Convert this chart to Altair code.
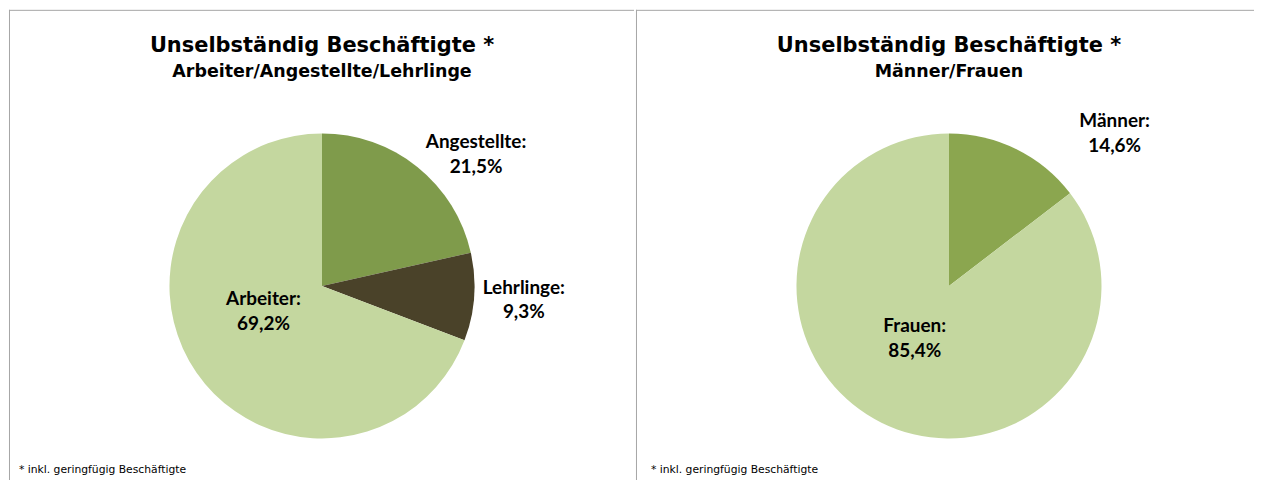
import altair as alt
import pandas as pd

# ---- data ----
left_cats = ["Angestellte", "Lehrlinge", "Arbeiter"]
left_vals = [21.5, 9.3, 69.2]
right_cats = ["Männer", "Frauen"]
right_vals = [14.6, 85.4]

title_main = "Unselbständig Beschäftigte *"
left_sub = "Arbeiter/Angestellte/Lehrlinge"
right_sub = "Männer/Frauen"
footnote = "* inkl. geringfügig Beschäftigte"

# ---- styles ----
colors = {
    "Angestellte": "#7f9b4b",
    "Lehrlinge": "#4a4229",
    "Arbeiter": "#c4d79f",
    "Männer": "#8ba64f",
    "Frauen": "#c4d79f",
}
# label placement: radius, dx, dy (dy is for the first line)
label_style = {
    "Angestellte": (204, 27, 15),
    "Lehrlinge": (203, 0, -13),
    "Arbeiter": (64, -6, -23),
    "Männer": (224, 67, 35),
    "Frauen": (64, -6, -17),
}
CX, CY, R = 314, 277, 153
H = 472
BORDER = "#a6a6a6"
LABEL_FONT = "Lato"
TITLE_FONT = "DejaVu Sans"


def fmt(v):
    return f"{v:.1f}".replace(".", ",") + "%"


def panel(cats, vals, sub, width, foot_x):
    df = pd.DataFrame({
        "cat": cats,
        "val": vals,
        "o": list(range(len(cats))),
        "label": [f"{c}:\n{fmt(v)}" for c, v in zip(cats, vals)],
    })
    base = alt.Chart(df).encode(
        theta=alt.Theta("val:Q", stack=True),
        order=alt.Order("o:Q"),
        x=alt.value(CX),
        y=alt.value(CY),
    )
    arcs = base.mark_arc(radius=R).encode(
        color=alt.Color("cat:N",
                        scale=alt.Scale(domain=cats, range=[colors[c] for c in cats]),
                        legend=None)
    )
    layers = [arcs]
    for c in cats:
        r, dx, dy = label_style[c]
        t = base.transform_calculate(
            t=f"datum.cat == '{c}' ? datum.label : ''"
        ).mark_text(
            radius=r, dx=dx, dy=dy, font=LABEL_FONT, fontWeight="bold",
            fontSize=19, lineBreak="\n", lineHeight=25, baseline="middle",
            align="center", color="#000000"
        ).encode(text="t:N")
        layers.append(t)

    tdf = pd.DataFrame({"t": [title_main], "s": [sub], "f": [footnote]})
    tb = alt.Chart(tdf)
    title = tb.mark_text(font=TITLE_FONT, fontWeight="bold", fontSize=21,
                         color="#000000", align="center", baseline="middle").encode(
        text="t:N", x=alt.value(CX), y=alt.value(36))
    subt = tb.mark_text(font=TITLE_FONT, fontWeight="bold", fontSize=17.5,
                        color="#000000", align="center", baseline="middle").encode(
        text="s:N", x=alt.value(CX), y=alt.value(62))
    foot = tb.mark_text(font=TITLE_FONT, fontSize=10.8, color="#000000",
                        align="left", baseline="middle").encode(
        text="f:N", x=alt.value(foot_x), y=alt.value(462))
    top_rule = tb.mark_rule(color=BORDER, strokeWidth=1).encode(
        x=alt.value(0), x2=alt.value(width), y=alt.value(0.5))
    left_rule = tb.mark_rule(color=BORDER, strokeWidth=1).encode(
        x=alt.value(0.5), y=alt.value(0), y2=alt.value(H))
    layers += [title, subt, foot, top_rule, left_rule]
    return alt.layer(*layers).properties(width=width, height=H)


left = panel(left_cats, left_vals, left_sub, 627, 10)
right = panel(right_cats, right_vals, right_sub, 620, 15)

chart = alt.hconcat(left, right, spacing=0).resolve_scale(
    color="independent"
).properties(
    padding=0, background="#ffffff"
).configure_view(stroke=None)

chart.save("out.html", embed_options={"renderer": "svg", "actions": False})
